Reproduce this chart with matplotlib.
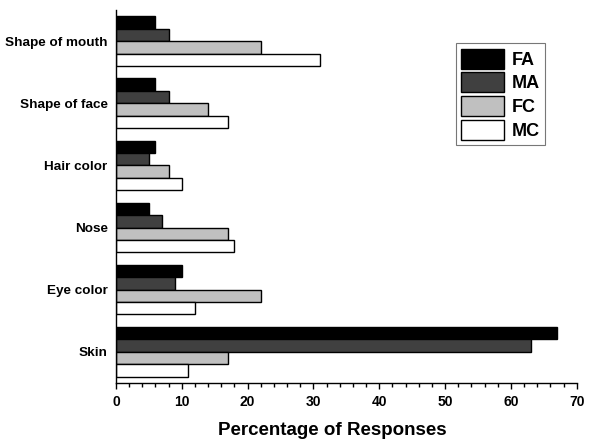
import numpy as np
import matplotlib.pyplot as plt
from matplotlib.ticker import MultipleLocator

plt.rcParams["font.family"] = ["Liberation Sans", "DejaVu Sans"]

categories = ["Skin", "Eye color", "Nose", "Hair color", "Shape of face", "Shape of mouth"]
fa = [67, 10, 5, 6, 6, 6]
ma = [63, 9, 7, 5, 8, 8]
fc = [17, 22, 17, 8, 14, 22]
mc = [11, 12, 18, 10, 17, 31]

series = [("FA", fa, "#000000"), ("MA", ma, "#404040"),
          ("FC", fc, "#c0c0c0"), ("MC", mc, "#ffffff")]

fig = plt.figure(figsize=(6, 4.43), dpi=100)
ax = fig.add_axes([0.1933, 0.136, 0.768, 0.841])

y = np.arange(len(categories))
h = 0.2
offsets = [0.3, 0.1, -0.1, -0.3]

for (name, vals, color), off in zip(series, offsets):
    ax.barh(y + off, vals, height=h, color=color, edgecolor="black",
            linewidth=1.0, label=name)

ax.set_xlim(0, 70)
ax.set_ylim(-0.5, 5.5)
ax.set_yticks(y)
ax.set_yticklabels(categories, fontsize=9.7, fontweight="bold")
ax.tick_params(axis="y", length=0, pad=6)
ax.xaxis.set_major_locator(MultipleLocator(10))
ax.xaxis.set_minor_locator(MultipleLocator(2))
ax.tick_params(axis="x", which="major", length=4.5, width=1, labelsize=10, pad=4)
ax.tick_params(axis="x", which="minor", length=3, width=1)
for lbl in ax.get_xticklabels():
    lbl.set_fontweight("bold")

ax.spines["top"].set_visible(False)
ax.spines["right"].set_visible(False)
ax.spines["left"].set_linewidth(1)
ax.spines["bottom"].set_linewidth(1)

ax.set_xlabel("Percentage of Responses", fontsize=13.5, fontweight="bold")
ax.xaxis.label.set_va("center")
ax.xaxis.set_label_coords(0.4685, -0.127)

leg = ax.legend(loc="upper left", bbox_to_anchor=(0.7375, 0.9106),
                prop={"weight": "bold", "size": 13},
                handlelength=2.4, handleheight=1.33, labelspacing=0.2,
                handletextpad=0.4, borderpad=0.28, frameon=True, fancybox=False,
                borderaxespad=0)
leg.get_frame().set_edgecolor("#555555")
leg.get_frame().set_linewidth(0.8)

plt.savefig("out.png", dpi=100)
